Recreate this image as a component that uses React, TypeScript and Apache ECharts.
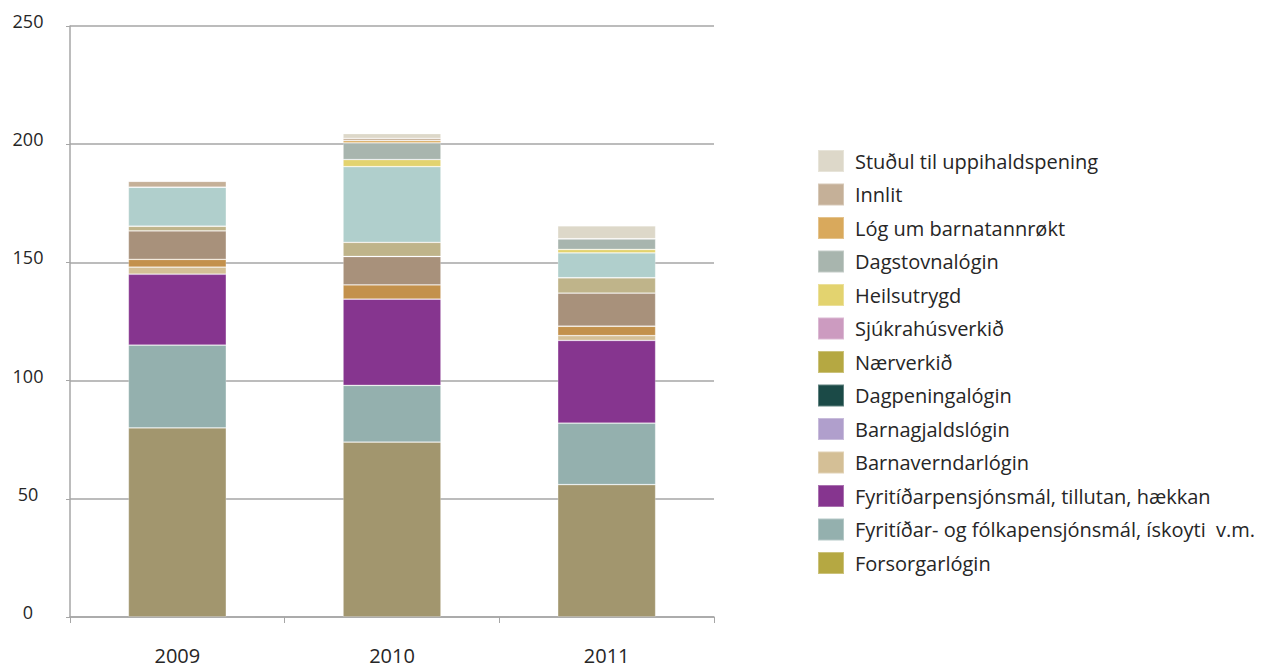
import React, { useEffect, useRef } from "react";
import * as echarts from "echarts";

const years = ["2009", "2010", "2011"];
const yTicks = [0, 50, 100, 150, 200, 250];

// stack order bottom -> top
const seriesNames = [
  "Forsorgarlógin",
  "Fyritíðar- og fólkapensjónsmál, ískoyti  v.m.",
  "Fyritíðarpensjónsmál, tillutan, hækkan",
  "Barnaverndarlógin",
  "Barnagjaldslógin",
  "Dagpeningalógin",
  "Nærverkið",
  "Sjúkrahúsverkið",
  "Heilsutrygd",
  "Dagstovnalógin",
  "Lóg um barnatannrøkt",
  "Innlit",
  "Stuðul til uppihaldspening",
];

const forsorgar = [80, 74, 56];
const fyriFolka = [35, 24, 26];
const fyriPens = [30, 36.5, 35];
const barnavernd = [3, 0, 2];
const barnagjald = [3.3, 6, 4];
const dagpeninga = [12, 12, 14];
const naerverk = [2, 6, 6.5];
const sjukrahus = [16.5, 32, 10.5];
const heilsutrygd = [0, 3, 1.5];
const dagstovna = [0, 7, 4.5];
const logBarnatann = [0, 1, 0];
const innlit = [2.5, 1, 0];
const studul = [0, 2, 5.5];

const seriesValues = [
  forsorgar, fyriFolka, fyriPens, barnavernd, barnagjald, dagpeninga,
  naerverk, sjukrahus, heilsutrygd, dagstovna, logBarnatann, innlit, studul,
];

const barColors = [
  "#a2966e", "#94b0ae", "#86358f", "#d4bf96", "#c3914c", "#a8917b",
  "#bfb48a", "#b0cfcc", "#e3d36f", "#a8b5ae", "#d9a95c", "#c5b098", "#ddd8c9",
];
const legendColors = [
  "#b5a842", "#94b0ae", "#86358f", "#d4bf96", "#b09fcc", "#1b4a47",
  "#b5a842", "#cc9bc0", "#e3d36f", "#a8b5ae", "#d9a95c", "#c5b098", "#ddd8c9",
];

const FONT = "'Open Sans', 'Noto Sans', sans-serif";

export default function App() {
  const ref = useRef<HTMLDivElement>(null);
  useEffect(() => {
    if (!ref.current) return;
    const chart = echarts.init(ref.current, undefined, { renderer: "svg" });
    chart.setOption({
      animation: false,
      backgroundColor: "#ffffff",
      grid: { left: 70, right: 562, top: 26, bottom: 53 },
      legend: {
        orient: "vertical",
        left: 812,
        top: 144,
        itemWidth: 26,
        itemHeight: 22,
        itemGap: 9.5,
        selectedMode: false,
        icon: "rect",
        textStyle: {
          fontFamily: FONT,
          fontSize: 20,
          color: "#262626",
          padding: [0, 0, 0, 6],
        },
        data: seriesNames
          .map((n, i) => ({ name: n, itemStyle: { color: legendColors[i] } }))
          .reverse(),
      },
      xAxis: {
        type: "category",
        data: years,
        axisLine: { lineStyle: { color: "#a6a6a6", width: 1.5 } },
        axisTick: { show: true, length: 6, lineStyle: { color: "#a6a6a6" } },
        axisLabel: { fontFamily: FONT, fontSize: 20, color: "#262626", margin: 28 },
      },
      yAxis: {
        type: "value",
        min: yTicks[0],
        max: yTicks[yTicks.length - 1],
        interval: 50,
        axisLine: { show: true, lineStyle: { color: "#a6a6a6", width: 1.5 } },
        axisTick: { show: true, length: 4, lineStyle: { color: "#a6a6a6" } },
        splitLine: { lineStyle: { color: "#a6a6a6", width: 1.5 } },
        axisLabel: {
          fontFamily: FONT,
          fontSize: 18,
          color: "#262626",
          margin: 42,
          align: "center",
          formatter: "{a|{value}}",
          rich: {
            a: { fontFamily: FONT, fontSize: 18, color: "#262626", padding: [0, 0, 10, 0] },
          },
        },
      },
      series: seriesNames.map((n, i) => ({
        name: n,
        type: "bar",
        stack: "total",
        barWidth: 98,
        data: seriesValues[i],
        itemStyle: {
          color: barColors[i],
          borderColor: "rgba(255,255,255,0.3)",
          borderWidth: 0.8,
        },
      })),
    });
    return () => chart.dispose();
  }, []);
  return (
    <div
      ref={ref}
      style={{ position: "fixed", left: 0, top: 0, width: 1276, height: 670, background: "#fff" }}
    />
  );
}
